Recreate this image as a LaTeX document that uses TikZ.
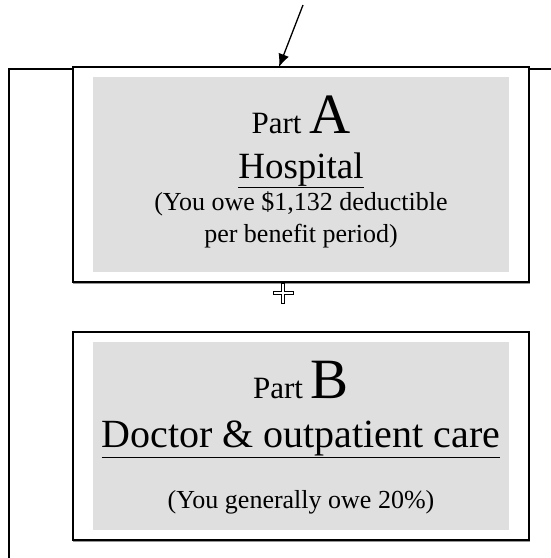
\documentclass[tikz,border=0pt]{standalone}
\usepackage{fontspec}
\setmainfont{Liberation Serif}
\usetikzlibrary{arrows.meta}
\definecolor{boxgray}{RGB}{223,223,223}
\definecolor{shadowgray}{RGB}{150,150,150}
\tikzset{
  framebox/.style={draw=black, line width=1.8pt, fill=white},
  graybox/.style={fill=boxgray, draw=none},
  outerline/.style={draw=black, line width=1.6pt},
  txt/.style={anchor=base, inner sep=0pt, align=center},
}
\begin{document}
\begin{tikzpicture}[x=1pt,y=-1pt]
\useasboundingbox (0,0) rectangle (551,558);
% outer frame (partial)
\coordinate (ol) at (9,558);
\coordinate (otl) at (9,69);
\coordinate (otr) at (551,69);
\draw[outerline] (ol) -- (otl) -- (otr);
% Part A box
\draw[framebox] (73,67) rectangle (529,282);
\draw[shadowgray, line width=0.8pt] (73,283.6) -- (530,283.6);
\fill[graybox] (93,77) rectangle (509,272);
\coordinate (boxAtop) at (279,67);
\node[txt] (partA) at (301,133) {{\fontsize{31}{31}\selectfont Part }{\fontsize{57}{57}\selectfont A}};
\node[txt] (hosp) at (301,178) {\fontsize{37}{37}\selectfont\underline{Hospital}};
\node[txt] (owe1) at (301,210) {\fontsize{26}{26}\selectfont (You owe \$1,132 deductible};
\node[txt] (owe2) at (301,242) {\fontsize{26}{26}\selectfont per benefit period)};
% arrow
\coordinate (arrowstart) at (303,5);
\draw[line width=1.3pt, -{Latex[length=13pt,width=11pt]}] (arrowstart) -- (boxAtop);
% anchor cross
\draw[line width=0.7pt] (281.5,283) -- (284.5,283) -- (284.5,291.5) -- (293,291.5) -- (293,294.5) -- (284.5,294.5) -- (284.5,303) -- (281.5,303) -- (281.5,294.5) -- (273,294.5) -- (273,291.5) -- (281.5,291.5) -- cycle;
% Part B box
\draw[framebox] (73,332) rectangle (529,540);
\draw[shadowgray, line width=0.8pt] (73,541.6) -- (530,541.6);
\fill[graybox] (93,342) rectangle (509,530);
\node[txt] (partB) at (301,398) {{\fontsize{31}{31}\selectfont Part }{\fontsize{57}{57}\selectfont B}};
\node[txt] (doc) at (301,447) {\fontsize{40}{40}\selectfont\underline{Doctor \& outpatient care}};
\node[txt] (owe3) at (301,508) {\fontsize{26}{26}\selectfont (You generally owe 20\%)};
\end{tikzpicture}
\end{document}
